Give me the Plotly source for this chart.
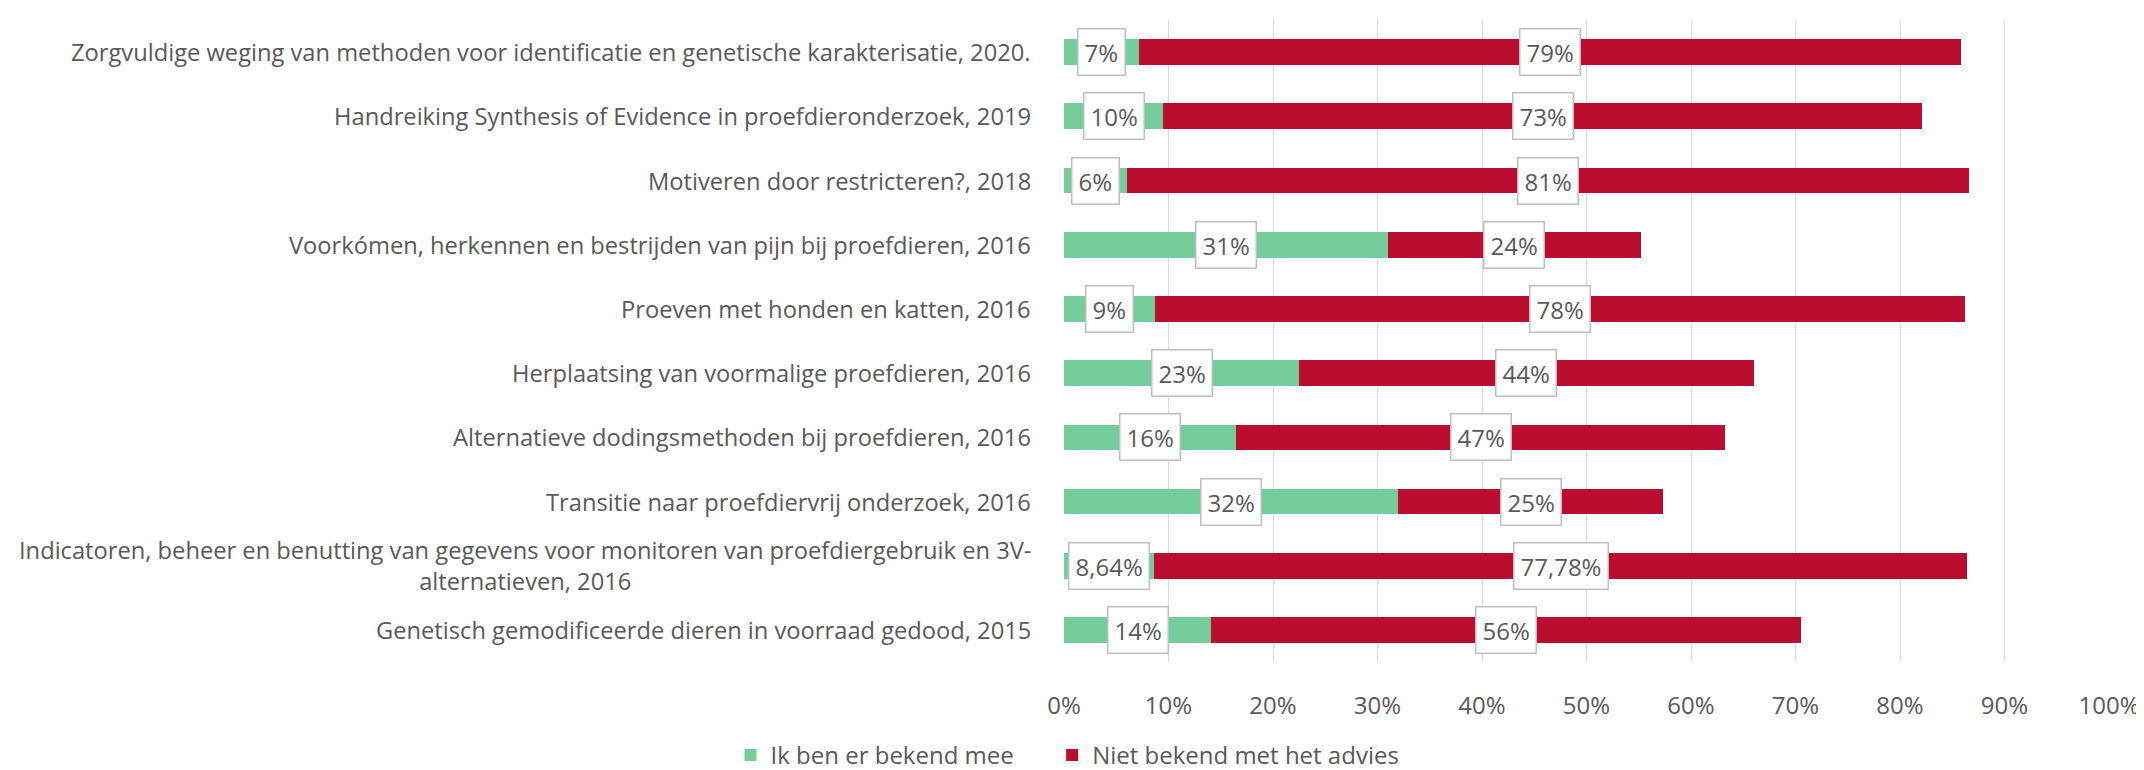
import plotly.graph_objects as go

categories = [
    "Zorgvuldige weging van methoden voor identificatie en genetische karakterisatie, 2020.",
    "Handreiking Synthesis of Evidence in proefdieronderzoek, 2019",
    "Motiveren door restricteren?, 2018",
    "Voorkómen, herkennen en bestrijden van pijn bij proefdieren, 2016",
    "Proeven met honden en katten, 2016",
    "Herplaatsing van voormalige proefdieren, 2016",
    "Alternatieve dodingsmethoden bij proefdieren, 2016",
    "Transitie naar proefdiervrij onderzoek, 2016",
    "Indicatoren, beheer en benutting van gegevens voor monitoren van proefdiergebruik en 3V-<br>alternatieven, 2016",
    "Genetisch gemodificeerde dieren in voorraad gedood, 2015",
]
bekend = [7.2, 9.5, 6.0, 31.0, 8.7, 22.5, 16.5, 32.0, 8.64, 14.1]
niet_bekend = [78.6, 72.6, 80.6, 24.2, 77.5, 43.5, 46.8, 25.3, 77.78, 56.4]
bekend_labels = ["7%", "10%", "6%", "31%", "9%", "23%", "16%", "32%", "8,64%", "14%"]
niet_labels = ["79%", "73%", "81%", "24%", "78%", "44%", "47%", "25%", "77,78%", "56%"]
tick_vals = [0, 10, 20, 30, 40, 50, 60, 70, 80, 90, 100]
tick_text = ["0%", "10%", "20%", "30%", "40%", "50%", "60%", "70%", "80%", "90%", "100%"]

GREEN = "#74CD9A"
RED = "#BA0D30"
TXT = "#595959"
FONT = "Open Sans"
FS = 24
FS_CAT = 23.7

ids = list(range(len(categories)))

fig = go.Figure()
fig.add_trace(go.Bar(y=ids, x=bekend, orientation="h", name="Ik ben er bekend mee",
                     marker=dict(color=GREEN, line=dict(width=0)), legend="legend"))
fig.add_trace(go.Bar(y=ids, x=niet_bekend, orientation="h", name="Niet bekend met het advies",
                     marker=dict(color=RED, line=dict(width=0)), legend="legend2"))

annotations = []
for i, (g, r, gl, rl) in enumerate(zip(bekend, niet_bekend, bekend_labels, niet_labels)):
    for xc, lab in ((g / 2, gl), (g + r / 2, rl)):
        annotations.append(dict(x=xc, y=i, xref="x", yref="y", text=lab, showarrow=False,
                                font=dict(family=FONT, size=FS, color=TXT),
                                bgcolor="white", bordercolor="#BFBFBF", borderwidth=1.5,
                                borderpad=6))
for i, c in enumerate(categories):
    annotations.append(dict(x=0, y=i, xref="paper", yref="y", text=c, showarrow=False,
                            xanchor="right", xshift=-31, align="center",
                            font=dict(family=FONT, size=FS_CAT, color=TXT)))

legend_common = dict(orientation="h", xanchor="left", xref="container",
                     y=-0.02, yanchor="bottom", yref="container",
                     font=dict(family=FONT, size=FS, color=TXT))

fig.update_layout(
    width=2144, height=770,
    barmode="stack", bargap=0.6,
    plot_bgcolor="white", paper_bgcolor="white",
    margin=dict(l=1056, r=40, t=12, b=98),
    font=dict(family=FONT, size=FS, color=TXT),
    xaxis=dict(range=[0, 100], tickvals=tick_vals, ticktext=tick_text,
               showgrid=True, gridcolor="#D9D9D9", gridwidth=1.3, zeroline=False,
               ticks="outside", ticklen=22, tickcolor="rgba(0,0,0,0)",
               tickfont=dict(family=FONT, size=FS, color=TXT), fixedrange=True),
    yaxis=dict(autorange="reversed", showticklabels=False, showgrid=False, zeroline=False,
               range=[9.5, -0.5]),
    legend=dict(x=0.337, **legend_common),
    legend2=dict(x=0.487, **legend_common),
    annotations=annotations,
    showlegend=True,
)
fig.write_html("out.html")
